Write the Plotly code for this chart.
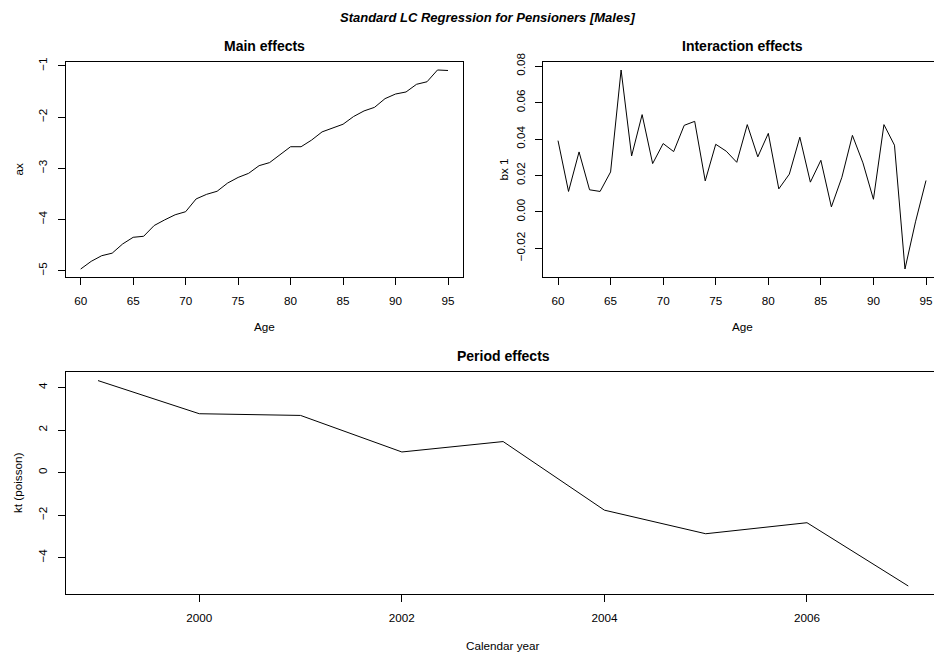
import plotly.graph_objects as go

# ---------------- data ----------------
ages = list(range(60, 96))
ax_vals = [-4.97, -4.82, -4.71, -4.66, -4.48, -4.35, -4.33, -4.12, -4.01, -3.91,
           -3.85, -3.60, -3.51, -3.45, -3.29, -3.18, -3.10, -2.95, -2.89, -2.73,
           -2.58, -2.58, -2.45, -2.29, -2.21, -2.14, -1.99, -1.88, -1.81, -1.64,
           -1.55, -1.51, -1.36, -1.31, -1.08, -1.09]
bx_vals = [0.0391, 0.0112, 0.0329, 0.0121, 0.0112, 0.0219, 0.0779, 0.0307, 0.0534, 0.0265,
           0.0375, 0.0331, 0.0475, 0.0497, 0.0170, 0.0371, 0.0333, 0.0272, 0.0479, 0.0302,
           0.0431, 0.0126, 0.0207, 0.0410, 0.0163, 0.0283, 0.0027, 0.0190, 0.0420, 0.0269,
           0.0069, 0.0479, 0.0366, -0.0314, -0.0055, 0.0172]
years = list(range(1999, 2008))
kt_vals = [4.33, 2.77, 2.69, 0.97, 1.46, -1.77, -2.88, -2.36, -5.34]

age_ticks = [60, 65, 70, 75, 80, 85, 90, 95]
ax_ticks = [-5, -4, -3, -2, -1]
bx_ticks = [-0.02, 0.00, 0.02, 0.04, 0.06, 0.08]
bx_tick_text = ["\u22120.02", "0.00", "0.02", "0.04", "0.06", "0.08"]
ax_tick_text = ["\u22125", "\u22124", "\u22123", "\u22122", "\u22121"]
year_ticks = [2000, 2002, 2004, 2006]
kt_ticks = [-4, -2, 0, 2, 4]
kt_tick_text = ["\u22124", "\u22122", "0", "2", "4"]

W, H = 934, 655
FONT = "Liberation Sans, Arial, Helvetica, sans-serif"
FS = 11.7


def px(x):
    return x / W


def py(y):
    return 1 - y / H


fig = go.Figure()
line = dict(color="black", width=1)
fig.add_trace(go.Scatter(x=ages, y=ax_vals, mode="lines", line=line, xaxis="x", yaxis="y"))
fig.add_trace(go.Scatter(x=ages, y=bx_vals, mode="lines", line=line, xaxis="x2", yaxis="y2"))
fig.add_trace(go.Scatter(x=years, y=kt_vals, mode="lines", line=line, xaxis="x3", yaxis="y3"))

common = dict(showgrid=False, zeroline=False, showline=True, linecolor="black", linewidth=1,
              ticks="outside", ticklen=7, tickwidth=1, tickcolor="black", automargin=False,
              tickfont=dict(family=FONT, size=FS, color="black"), fixedrange=True)

fig.update_layout(
    width=W, height=H, margin=dict(l=0, r=0, t=0, b=0, pad=0, autoexpand=False),
    paper_bgcolor="white", plot_bgcolor="white", showlegend=False,
    xaxis=dict(domain=[px(66), px(462.7)], range=[58.6, 96.4], tickvals=age_ticks,
               mirror=True, anchor="y", ticklabelstandoff=6, **common),
    yaxis=dict(domain=[py(277), py(62)], range=[-5.126, -0.924], tickvals=ax_ticks,
               ticktext=ax_tick_text, tickangle=-90, mirror=True, anchor="x",
               ticklabelstandoff=6, **common),
    xaxis2=dict(domain=[px(543.3), 1], range=[58.6, 95.76], tickvals=age_ticks,
                mirror=True, anchor="y2", ticklabelstandoff=6, **common),
    yaxis2=dict(domain=[py(277), py(62)], range=[-0.0358, 0.0823], tickvals=bx_ticks,
                ticktext=bx_tick_text, tickangle=-90, mirror=False, anchor="x2",
                ticklabelstandoff=6, **common),
    xaxis3=dict(domain=[px(66), 1], range=[1998.684, 2007.254], tickvals=year_ticks,
                mirror=True, anchor="y3", ticklabelstandoff=6, **common),
    yaxis3=dict(domain=[py(594.3), py(372.3)], range=[-5.73, 4.72], tickvals=kt_ticks,
                ticktext=kt_tick_text, tickangle=-90, mirror=False, anchor="x3",
                ticklabelstandoff=6, **common),
)

ann = []


def add_text(text, x, y, size=FS, bold=False, italic=False, angle=0):
    t = text
    if bold:
        t = "<b>" + t + "</b>"
    if italic:
        t = "<i>" + t + "</i>"
    ann.append(dict(text=t, x=px(x), y=py(y), xref="paper", yref="paper",
                    showarrow=False, xanchor="center", yanchor="middle", textangle=angle,
                    font=dict(family=FONT, size=size, color="black")))


add_text("Standard LC Regression for Pensioners [Males]", 488, 17.5, size=13, bold=True, italic=True)
add_text("Main effects", 264.4, 46, size=14, bold=True)
add_text("Interaction effects", 742, 46, size=14, bold=True)
add_text("Period effects", 503.5, 356, size=14, bold=True)
add_text("Age", 264.4, 326)
add_text("Age", 742, 326)
add_text("Calendar year", 503.5, 645)
add_text("ax", 18, 169.5, angle=-90)
add_text("bx 1", 503, 169.5, angle=-90)
add_text("kt (poisson)", 17, 483, angle=-90)

fig.update_layout(annotations=ann)

post = (
    "document.documentElement.style.margin='0';"
    "document.documentElement.style.padding='0';"
    "document.documentElement.style.overflow='hidden';"
    "document.body.style.margin='0';"
    "document.body.style.padding='0';"
    "document.body.style.overflow='hidden';"
    "var d=document.getElementsByClassName('plotly-graph-div')[0];"
    "if(d){d.style.position='fixed';d.style.top='0px';d.style.left='0px';}"
)
fig.write_html("out.html", config={"displayModeBar": False}, post_script=post)
